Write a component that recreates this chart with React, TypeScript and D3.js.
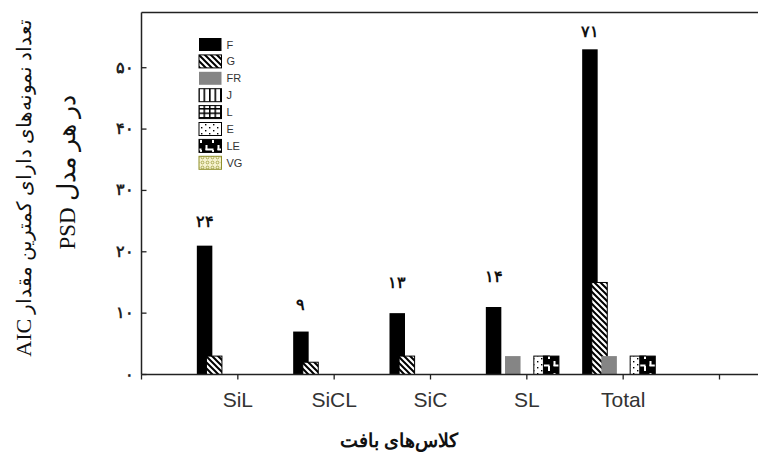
import React from "react";
import * as d3 from "d3";

const categories = ["SiL", "SiCL", "SiC", "SL", "Total"];
const seriesNames = ["F", "G", "FR", "J", "L", "E", "LE", "VG"];
const valuesF = [21, 7, 10, 11, 53];
const valuesG = [3, 2, 3, 0, 15];
const valuesFR = [0, 0, 0, 3, 3];
const valuesJ = [0, 0, 0, 0, 0];
const valuesL = [0, 0, 0, 0, 0];
const valuesE = [0, 0, 0, 3, 3];
const valuesLE = [0, 0, 0, 3, 3];
const valuesVG = [0, 0, 0, 0, 0];
const countLabels = ["۲۴", "۹", "۱۳", "۱۴", "۷۱"];
const countLabelLevels = [24.1, 10.5, 14.1, 15.1, 55];
const yTicks = [0, 10, 20, 30, 40, 50];
const yTickLabels = ["۰", "۱۰", "۲۰", "۳۰", "۴۰", "۵۰"];
const xTicks = [0, 1, 2, 3, 4, 5, 6];
const yTitle1Fa = "تعداد نمونه‌های دارای کمترین مقدار ";
const yTitle1En = "AIC";
const yTitle2Fa = "در هر مدل ";
const yTitle2En = "PSD";
const xTitle = "کلاس‌های بافت";

const allSeries = [valuesF, valuesG, valuesFR, valuesJ, valuesL, valuesE, valuesLE, valuesVG];

const fills: Record<string, string> = {
  F: "#000",
  G: "url(#pG)",
  FR: "#858585",
  J: "url(#pJ)",
  L: "url(#pL)",
  E: "url(#pE)",
  LE: "url(#pLE)",
  VG: "url(#pVG)",
};
const strokes: Record<string, string> = {
  F: "none",
  G: "#000",
  FR: "none",
  J: "#000",
  L: "#000",
  E: "#000",
  LE: "#000",
  VG: "#8f8f2a",
};

export default function App() {
  const W = 758, H = 459;
  const x = d3.scaleLinear().domain([0, 6]).range([141.5, 719.5]);
  const y = d3.scaleLinear().domain([0, 59]).range([374.5, 12.5]);
  const slot = d3.scaleLinear().domain([0, 7]).range([-41, 26.2]);
  const bw = 15.5;
  const axisColor = "#222";
  const persianFont = "'Times New Roman', 'DejaVu Serif', serif";

  return (
    <svg width={W} height={H} style={{ position: "absolute", left: 0, top: 0, background: "#fff" }}>
      <defs>
        <pattern id="pG" patternUnits="userSpaceOnUse" width="6" height="6">
          <rect width="6" height="6" fill="#fff" />
          <path d="M-1,-1 L7,7 M-4,2 L4,10 M2,-4 L10,4" stroke="#000" strokeWidth="2" />
        </pattern>
        <pattern id="pJ" patternUnits="userSpaceOnUse" width="5.5" height="5">
          <rect width="5.5" height="5" fill="#fff" />
          <rect x="0" y="0" width="1.6" height="5" fill="#000" />
        </pattern>
        <pattern id="pL" patternUnits="userSpaceOnUse" width="5.5" height="4.5">
          <rect width="5.5" height="4.5" fill="#fff" />
          <rect x="0" y="0" width="1.5" height="4.5" fill="#000" />
          <rect x="0" y="0" width="5.5" height="1.5" fill="#000" />
        </pattern>
        <pattern id="pE" patternUnits="userSpaceOnUse" width="8" height="6">
          <rect width="8" height="6" fill="#fff" />
          <rect x="1" y="1" width="1.4" height="1.4" fill="#000" />
          <rect x="5" y="4" width="1.4" height="1.4" fill="#000" />
        </pattern>
        <pattern id="pLE" patternUnits="userSpaceOnUse" width="12" height="12">
          <rect width="12" height="12" fill="#000" />
          <rect x="1.5" y="1" width="2" height="5" fill="#fff" />
          <rect x="1.5" y="4.5" width="8" height="2" fill="#fff" />
          <rect x="8" y="6" width="2" height="5" fill="#fff" />
        </pattern>
        <pattern id="pVG" patternUnits="userSpaceOnUse" width="5" height="5">
          <rect width="5" height="5" fill="#f6f2cf" />
          <circle cx="2.5" cy="2.5" r="1.4" fill="none" stroke="#9a9a3a" strokeWidth="0.8" />
        </pattern>
      </defs>

      {/* bars */}
      {categories.map((c, i) =>
        seriesNames.map((s, j) => {
          const v = allSeries[j][i];
          if (!v) return null;
          const left = x(i + 1) + slot(j);
          return (
            <rect
              key={c + s}
              x={left}
              y={y(v)}
              width={bw}
              height={y(0) - y(v)}
              fill={fills[s]}
              stroke={strokes[s]}
              strokeWidth={1}
            />
          );
        })
      )}

      {/* count labels */}
      {categories.map((c, i) => (
        <text
          key={"cl" + c}
          x={x(i + 1) + slot(0) + bw / 2}
          y={y(countLabelLevels[i])}
          textAnchor="middle"
          fontFamily={persianFont}
          fontSize={16}
          fontWeight="bold"
          fill="#111"
        >
          {countLabels[i]}
        </text>
      ))}

      {/* axes frame */}
      <line x1={x(0)} x2={W} y1={y(59)} y2={y(59)} stroke={axisColor} strokeWidth={1.5} />
      <line x1={x(0)} x2={x(0)} y1={y(59)} y2={y(0)} stroke={axisColor} strokeWidth={1.5} />
      <line x1={x(0)} x2={W} y1={y(0)} y2={y(0)} stroke={axisColor} strokeWidth={1.5} />

      {/* x ticks */}
      {xTicks.map((t) => (
        <line key={"xt" + t} x1={x(t)} x2={x(t)} y1={y(0)} y2={y(0) + 5} stroke={axisColor} strokeWidth={1.3} />
      ))}
      {categories.map((c, i) => (
        <text
          key={"xl" + c}
          x={x(i + 1)}
          y={407}
          textAnchor="middle"
          fontFamily="Arial, 'Liberation Sans', sans-serif"
          fontSize={21}
          fill="#333"
        >
          {c}
        </text>
      ))}

      {/* y ticks */}
      {yTicks.map((t, k) => (
        <g key={"yt" + t}>
          <line x1={x(0)} x2={x(0) + 5} y1={y(t)} y2={y(t)} stroke={axisColor} strokeWidth={1.3} />
          <text
            x={134}
            y={y(t) + 5}
            textAnchor="end"
            fontFamily={persianFont}
            fontSize={16}
            fontWeight="bold"
            fill="#222"
          >
            {yTickLabels[k]}
          </text>
        </g>
      ))}

      {/* legend */}
      {seriesNames.map((s, j) => {
        const top = 38 + j * 16.9;
        return (
          <g key={"lg" + s}>
            <rect x={199} y={top} width={22.5} height={13} fill={fills[s]} stroke={strokes[s]} strokeWidth={1} />
            <text
              x={226.5}
              y={top + 10.5}
              fontFamily="Arial, 'Liberation Sans', sans-serif"
              fontSize={11}
              fill="#333"
            >
              {s}
            </text>
          </g>
        );
      })}

      {/* axis titles */}
      <text
        transform={`translate(31, 188) rotate(-90)`}
        textAnchor="middle"
        direction="rtl"
        fontFamily={persianFont}
        fill="#111"
      >
        <tspan fontSize={19.5}>{yTitle1Fa}</tspan>
        <tspan fontSize={22}>{yTitle1En}</tspan>
      </text>
      <text
        transform={`translate(75, 172) rotate(-90)`}
        textAnchor="middle"
        direction="rtl"
        fontFamily={persianFont}
        fill="#111"
      >
        <tspan fontSize={25}>{yTitle2Fa}</tspan>
        <tspan fontSize={23}>{yTitle2En}</tspan>
      </text>
      <text
        x={399}
        y={447}
        textAnchor="middle"
        direction="rtl"
        fontFamily={persianFont}
        fontSize={19}
        fontWeight="bold"
        fill="#111"
      >
        {xTitle}
      </text>
    </svg>
  );
}
